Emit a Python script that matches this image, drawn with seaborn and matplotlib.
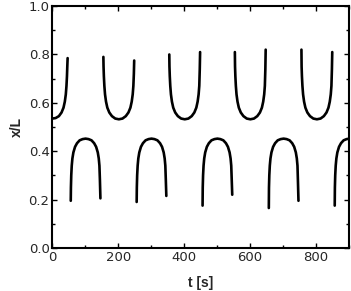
import numpy as np
import pandas as pd
import matplotlib
matplotlib.use('Agg')
import matplotlib.pyplot as plt
from matplotlib.ticker import MultipleLocator
import seaborn as sns

# upper branch (U shapes)
t_u1 = [0, 10, 20, 28, 34, 38, 41, 43, 44.5, 45.5, 46.5]
y_u1 = [0.535, 0.537, 0.545, 0.56, 0.58, 0.605, 0.635, 0.67, 0.71, 0.75, 0.785]
t_u2 = [155, 155.5, 156.5, 158, 160, 163, 167, 173, 181, 191, 202, 213, 223, 231, 237, 241, 244, 246, 247.5, 248.5]
y_u2 = [0.79, 0.75, 0.71, 0.67, 0.635, 0.605, 0.58, 0.56, 0.545, 0.535, 0.532, 0.535, 0.545, 0.56, 0.58, 0.605, 0.635, 0.67, 0.72, 0.775]
t_u3 = [355, 355.5, 356.5, 358, 360, 363, 367, 373, 381, 391, 402, 413, 423, 431, 437, 441, 444, 446, 447.5, 448.5]
y_u3 = [0.80, 0.75, 0.71, 0.67, 0.635, 0.605, 0.58, 0.56, 0.545, 0.535, 0.532, 0.535, 0.545, 0.56, 0.58, 0.605, 0.635, 0.67, 0.74, 0.81]
t_u4 = [554, 554.5, 555.5, 557, 559, 562, 566, 572, 580, 590, 601, 612, 622, 630, 636, 640, 643, 645, 646.5, 647.5]
y_u4 = [0.81, 0.75, 0.71, 0.67, 0.635, 0.605, 0.58, 0.56, 0.545, 0.535, 0.532, 0.535, 0.545, 0.56, 0.58, 0.605, 0.635, 0.67, 0.74, 0.82]
t_u5 = [756, 756.5, 757.5, 759, 761, 764, 768, 774, 782, 792, 803, 814, 824, 832, 838, 842, 845, 847, 848.5, 849.5]
y_u5 = [0.82, 0.75, 0.71, 0.67, 0.635, 0.605, 0.58, 0.56, 0.545, 0.535, 0.532, 0.535, 0.545, 0.56, 0.58, 0.605, 0.635, 0.67, 0.74, 0.81]

# lower branch (inverted U shapes)
t_l1 = [56, 56.5, 57.5, 59, 61, 64, 69, 75, 83, 92, 101, 110, 119, 127, 133, 138, 141, 143, 144.5, 146]
y_l1 = [0.195, 0.25, 0.30, 0.34, 0.37, 0.395, 0.418, 0.433, 0.445, 0.45, 0.452, 0.45, 0.445, 0.433, 0.418, 0.395, 0.37, 0.34, 0.28, 0.205]
t_l2 = [256, 256.5, 257.5, 259, 261, 264, 269, 275, 283, 292, 301, 310, 319, 327, 333, 338, 341, 343, 344.5, 346]
y_l2 = [0.19, 0.25, 0.30, 0.34, 0.37, 0.395, 0.418, 0.433, 0.445, 0.45, 0.452, 0.45, 0.445, 0.433, 0.418, 0.395, 0.37, 0.34, 0.28, 0.215]
t_l3 = [456, 456.5, 457.5, 459, 461, 464, 469, 475, 483, 492, 501, 510, 519, 527, 533, 538, 541, 543, 544.5, 546]
y_l3 = [0.175, 0.25, 0.30, 0.34, 0.37, 0.395, 0.418, 0.433, 0.445, 0.45, 0.452, 0.45, 0.445, 0.433, 0.418, 0.395, 0.37, 0.34, 0.28, 0.22]
t_l4 = [657, 657.5, 658.5, 660, 662, 665, 670, 676, 684, 693, 702, 711, 720, 728, 734, 739, 742, 744, 745.5, 747]
y_l4 = [0.165, 0.25, 0.30, 0.34, 0.37, 0.395, 0.418, 0.433, 0.445, 0.45, 0.452, 0.45, 0.445, 0.433, 0.418, 0.395, 0.37, 0.34, 0.27, 0.195]
t_l5 = [857, 857.5, 858.5, 860, 862, 865, 870, 876, 884, 893, 902, 911]
y_l5 = [0.175, 0.25, 0.30, 0.34, 0.37, 0.395, 0.418, 0.433, 0.445, 0.45, 0.452, 0.45]

segs = [(t_u1, y_u1), (t_u2, y_u2), (t_u3, y_u3), (t_u4, y_u4), (t_u5, y_u5),
        (t_l1, y_l1), (t_l2, y_l2), (t_l3, y_l3), (t_l4, y_l4), (t_l5, y_l5)]
df = pd.concat([pd.DataFrame({'t': t, 'y': y, 'seg': i}) for i, (t, y) in enumerate(segs)])

sns.set_style('ticks')
plt.rcParams['font.family'] = ['DejaVu Sans']

fig = plt.figure(figsize=(3.51, 2.91), dpi=100)
ax = fig.add_axes([0.149, 0.148, 0.845, 0.831])
sns.lineplot(data=df, x='t', y='y', units='seg', estimator=None, sort=False,
             color='black', lw=1.9, ax=ax)

ax.set_xlim(0, 900)
ax.set_ylim(0, 1.0)
ax.xaxis.set_major_locator(MultipleLocator(200))
ax.xaxis.set_minor_locator(MultipleLocator(100))
ax.yaxis.set_major_locator(MultipleLocator(0.2))
ax.yaxis.set_minor_locator(MultipleLocator(0.1))
ax.set_yticklabels(['%.1f' % v for v in ax.get_yticks()])
ax.tick_params(which='both', direction='in', top=True, right=True, labelsize=9.5,
               color='black', width=1.0, pad=2)
ax.tick_params(which='major', length=3.5)
ax.tick_params(which='minor', length=2)
for s in ax.spines.values():
    s.set_linewidth(1.5)
    s.set_color('black')

ax.set_xlabel('t [s]', family='Liberation Sans', fontweight='bold', fontsize=10, labelpad=9)
ax.set_ylabel('x/L', family='Liberation Sans', fontweight='bold', fontsize=10, labelpad=3)

fig.savefig('out.png', dpi=100)
